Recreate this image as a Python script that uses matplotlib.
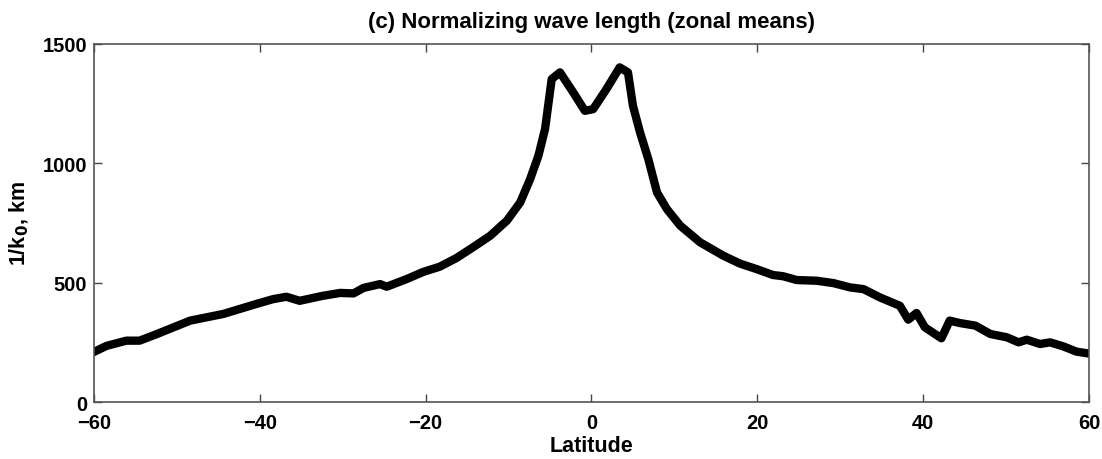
import matplotlib
matplotlib.use("Agg")
import matplotlib.pyplot as plt

# zonal mean of 1/k0 (km)
latitude = [-60, -58.5, -56.1, -54.5, -52.4, -50.4, -48.4, -46.4, -44.4, -42.4,
            -40.4, -38.4, -36.8, -35.2, -32.4, -30.3, -28.7, -27.5, -25.5, -24.7,
            -22.3, -20.3, -18.3, -16.3, -14.3, -12.2, -10.2, -8.6, -7.4, -6.4,
            -5.6, -4.8, -3.8, -2.2, -0.8, 0.2, 1.8, 3.4, 4.4, 5.0,
            5.85, 6.85, 7.9, 9.1, 10.7, 13.1, 15.9, 17.9, 19.9, 21.9,
            23.1, 24.75, 27.2, 29.2, 31.2, 32.8, 34.8, 37.2, 38.2, 39.2,
            40.2, 42.2, 43.2, 44.4, 46.3, 48.1, 50.1, 51.5, 52.5, 54.1,
            55.3, 56.9, 58.5, 60]
inv_k0 = [210, 235, 257, 257, 285, 313, 341, 355, 369, 390,
          411, 431, 441, 424, 445, 457, 455, 478, 494, 483,
          515, 545, 567, 603, 648, 697, 760, 836, 934, 1032,
          1144, 1353, 1381, 1297, 1220, 1227, 1311, 1402, 1381, 1241,
          1130, 1018, 878, 808, 739, 669, 613, 580, 557, 532,
          527, 511, 508, 498, 480, 473, 438, 403, 345, 373,
          313, 267, 341, 331, 320, 285, 271, 250, 261, 243,
          250, 233, 211, 203]

plt.rcParams['font.family'] = ['Liberation Sans', 'DejaVu Sans']
plt.rcParams['font.weight'] = 'bold'

fig = plt.figure(figsize=(11.02, 4.6), dpi=100)
ax = fig.add_axes([0.0853, 0.1239, 0.9029, 0.7783])

ax.plot(latitude, inv_k0, color='black', linewidth=6, solid_joinstyle='round')

ax.set_xlim(-60, 60)
ax.set_ylim(0, 1500)
ax.set_xticks([-60, -40, -20, 0, 20, 40, 60])
ax.set_yticks([0, 500, 1000, 1500])
ax.tick_params(direction='in', top=True, right=True, length=6, width=1,
               labelsize=14.5, colors='#444444', labelcolor='black')
ax.tick_params(axis='x', pad=8)
ax.tick_params(axis='y', pad=5)
for s in ax.spines.values():
    s.set_color('#555555')
    s.set_linewidth(1.2)
for lbl in ax.get_xticklabels() + ax.get_yticklabels():
    lbl.set_fontweight('bold')

ax.set_xlabel('Latitude', fontsize=15.5, fontweight='bold', labelpad=2)
ax.set_ylabel('1/k$_0$, km', fontsize=15.5, fontweight='bold', labelpad=8)
ax.set_title('(c) Normalizing wave length (zonal means)', fontsize=16,
             fontweight='bold', pad=12)

fig.savefig('out.png', dpi=100)
